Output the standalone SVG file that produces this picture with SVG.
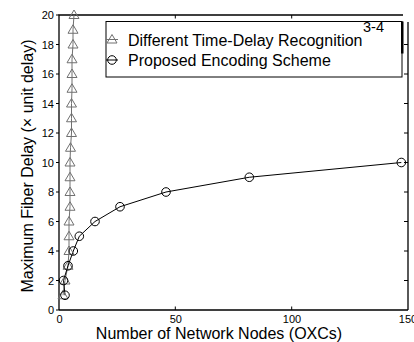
<svg xmlns="http://www.w3.org/2000/svg" width="414" height="342" viewBox="0 0 414 342">
  <style>
    text { font-family: "Liberation Sans", Arial, sans-serif; fill: #000; }
    .tick { font-size: 11px; }
    .lbl { font-size: 16px; }
    .axis { fill: none; stroke: #000; stroke-width: 1.3; }
    .tk { stroke: #000; stroke-width: 1; }
    .tri { fill: #fff; fill-opacity: 0; stroke: #707070; stroke-width: 1; }
    .cir { fill: none; stroke: #000; stroke-width: 1; }
    .lineT { fill: none; stroke: #707070; stroke-width: 1; }
    .lineC { fill: none; stroke: #000; stroke-width: 1; }
  </style>
  <defs>
    <path id="mTri" d="M0,-5 L5,3.5 L-5,3.5 Z"/>
    <circle id="mCir" r="4.3"/>
  </defs>
  <rect width="414" height="342" fill="#fff"/>

  <!-- axes frame -->
  <g id="axes">
    <path class="axis" d="M59,310 H408 M59,310 V15 H403 M408,310 V22"/>
    <!-- y ticks -->
    <path class="tk" d="M56,310H59 M56,280.5H59 M56,251H59 M56,221.5H59 M56,192H59 M56,162.5H59 M56,133H59 M56,103.5H59 M56,74H59 M56,44.5H59 M56,15H59
                        M404,280.5H408 M404,251H408 M404,221.5H408 M404,192H408 M404,162.5H408 M404,133H408 M404,103.5H408 M404,74H408 M404,44.5H408"/>
    <!-- x ticks -->
    <path class="tk" d="M175.3,310V306.5 M291.7,310V306.5 M175.3,15V18.5 M291.7,15V18.5"/>
    <g class="tick" text-anchor="end">
      <text x="54" y="314">0</text>
      <text x="54" y="284.5">2</text>
      <text x="54" y="255">4</text>
      <text x="54" y="225.5">6</text>
      <text x="54" y="196">8</text>
      <text x="54" y="166.5">10</text>
      <text x="54" y="137">12</text>
      <text x="54" y="107.5">14</text>
      <text x="54" y="78">16</text>
      <text x="54" y="48.5">18</text>
      <text x="54" y="19">20</text>
    </g>
    <g class="tick" text-anchor="middle">
      <text x="59.5" y="322.5">0</text>
      <text x="175.8" y="322.5">50</text>
      <text x="292" y="322.5">100</text>
      <text x="408" y="322.5">150</text>
    </g>
  </g>

  <!-- axis titles -->
  <text id="xlabel" class="lbl" x="219" y="339" text-anchor="middle">Number of Network Nodes (OXCs)</text>
  <text id="ylabel" class="lbl" transform="translate(32.5,166) rotate(-90)" text-anchor="middle">Maximum Fiber Delay (× unit delay)</text>

  <!-- data curves -->
  <g id="connectors">
    <polyline id="curve-tdr" class="lineT" points="63,295.25 65,280.5 68,265.75 69,251 69,236.25 69,221.5 70,206.75 70,192 70,177.25 70,162.5 70.5,147.75 71.5,133 71.5,118.25 71.5,103.5 72,88.75 72,74 72,59.25 73,44.5 73,29.75 74,15"/>
    <polyline id="curve-enc" class="lineC" points="65,295.25 63.5,280.5 68,265.75 73.3,251 79.3,236.25 95,221.5 120,206.75 166,192 249.3,177.25 401.3,162.5"/>
  </g>

  <g id="markers-tdr" class="tri">
    <use href="#mTri" x="63" y="295.25"/>
    <use href="#mTri" x="65" y="280.5"/>
    <use href="#mTri" x="68" y="265.75"/>
    <use href="#mTri" x="69" y="251"/>
    <use href="#mTri" x="69" y="236.25"/>
    <use href="#mTri" x="69" y="221.5"/>
    <use href="#mTri" x="70" y="206.75"/>
    <use href="#mTri" x="70" y="192"/>
    <use href="#mTri" x="70" y="177.25"/>
    <use href="#mTri" x="70" y="162.5"/>
    <use href="#mTri" x="70.5" y="147.75"/>
    <use href="#mTri" x="71.5" y="133"/>
    <use href="#mTri" x="71.5" y="118.25"/>
    <use href="#mTri" x="71.5" y="103.5"/>
    <use href="#mTri" x="72" y="88.75"/>
    <use href="#mTri" x="72" y="74"/>
    <use href="#mTri" x="72" y="59.25"/>
    <use href="#mTri" x="73" y="44.5"/>
    <use href="#mTri" x="73" y="29.75"/>
    <use href="#mTri" x="74" y="15"/>
  </g>

  <g id="markers-enc" class="cir">
    <use href="#mCir" x="65" y="295.25"/>
    <use href="#mCir" x="63.5" y="280.5"/>
    <use href="#mCir" x="68" y="265.75"/>
    <use href="#mCir" x="73.3" y="251"/>
    <use href="#mCir" x="79.3" y="236.25"/>
    <use href="#mCir" x="95" y="221.5"/>
    <use href="#mCir" x="120" y="206.75"/>
    <use href="#mCir" x="166" y="192"/>
    <use href="#mCir" x="249.3" y="177.25"/>
    <use href="#mCir" x="401.3" y="162.5"/>
  </g>

  <!-- legend -->
  <g id="legend">
    <rect x="106" y="21.5" width="296" height="55.5" fill="#fff" stroke="#000" stroke-width="1"/>
    <rect x="401" y="21.5" width="2.5" height="32" fill="#000"/>
    <path class="lineT" d="M106,39.5H118"/>
    <use href="#mTri" x="112" y="39.5" class="tri"/>
    <text class="lbl" x="128" y="45.5">Different Time-Delay Recognition</text>
    <path class="lineC" d="M106,60H118"/>
    <use href="#mCir" x="112" y="60" class="cir"/>
    <text class="lbl" x="128" y="66">Proposed Encoding Scheme</text>
    <text x="363" y="31.5" style="font-size:14.5px">3-4</text>
  </g>
</svg>
